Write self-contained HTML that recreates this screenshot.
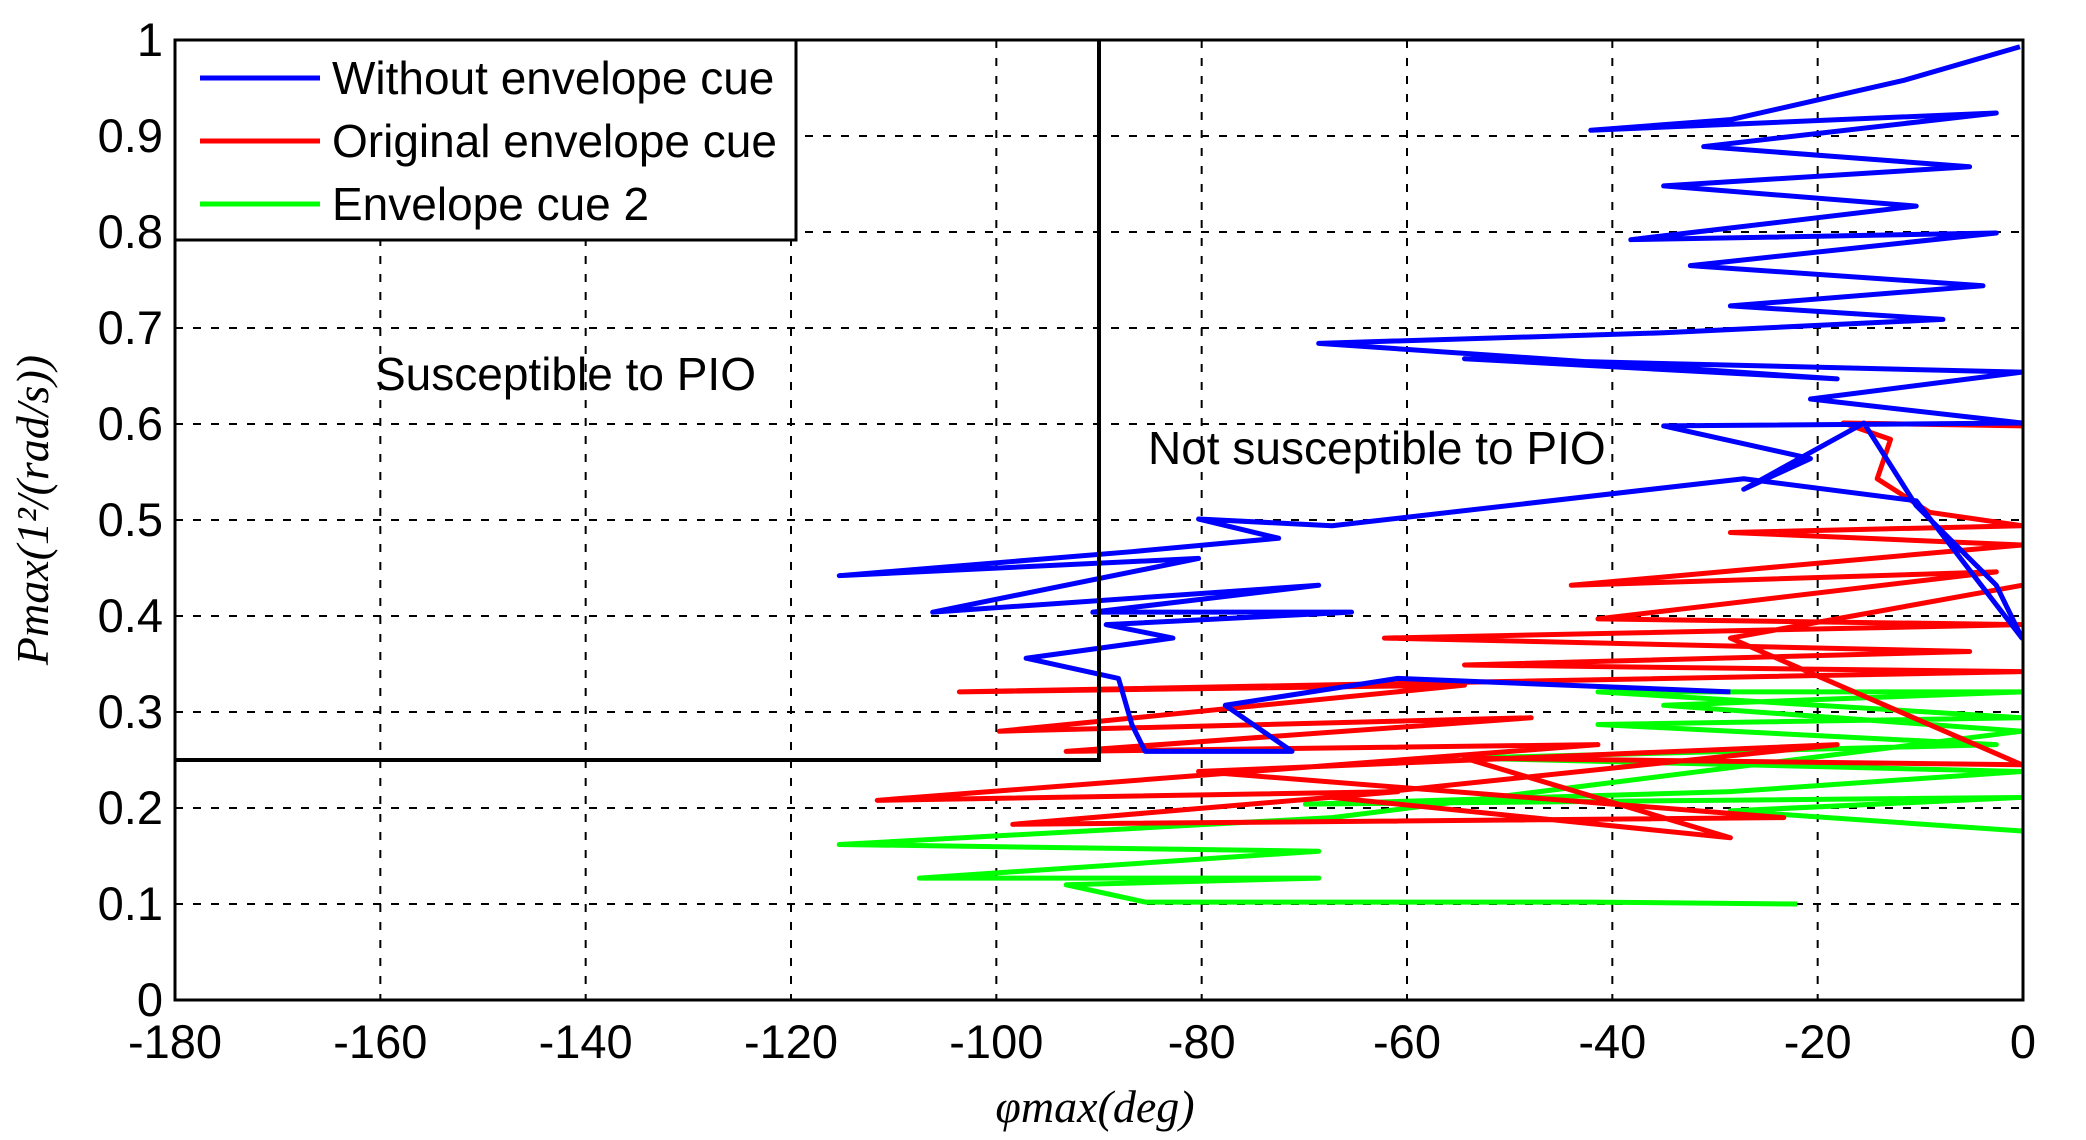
<!DOCTYPE html>
<html><head><meta charset="utf-8"><style>
body{margin:0;background:#fff;}
svg{display:block;font-family:"Liberation Sans",sans-serif;}
</style></head><body>
<svg id="chart" width="2086" height="1140"></svg>
<script>
const xTicks=[-180,-160,-140,-120,-100,-80,-60,-40,-20,0];
const yTicks=[0,0.1,0.2,0.3,0.4,0.5,0.6,0.7,0.8,0.9,1];
const yTickLabels=["0","0.1","0.2","0.3","0.4","0.5","0.6","0.7","0.8","0.9","1"];
const blueX=[-0.3,-11.6,-28.5,-42.1,-2.6,-31.1,-5.2,-35.0,-10.4,-38.2,-2.6,-32.4,-3.9,-28.5,-7.8,-35.0,-68.6,-18.1,-54.4,-0.1,-20.7,-0.1,-35.0,-20.7,-27.2,-15.5,-10.4,-2.6,-0.1,-10.4,-27.2,-67.3,-80.3,-72.5,-86.8,-115.3,-80.3,-106.2,-68.6,-90.6,-65.4,-89.3,-82.8,-97.1,-88.1,-86.8,-85.5,-71.2,-77.7,-60.9,-28.5];
const blueY=[0.993,0.958,0.917,0.906,0.924,0.889,0.868,0.848,0.827,0.792,0.799,0.765,0.744,0.723,0.709,0.695,0.684,0.647,0.668,0.654,0.626,0.601,0.598,0.564,0.532,0.601,0.515,0.432,0.377,0.52,0.543,0.494,0.501,0.481,0.467,0.442,0.460,0.404,0.432,0.404,0.404,0.391,0.377,0.356,0.335,0.287,0.259,0.259,0.307,0.335,0.321];
const redX=[-0.1,-17.5,-12.9,-14.2,-9.1,-0.1,-28.5,-0.1,-44,-2.6,-41.4,-0.1,-62.2,-5.2,-54.4,-0.1,-103.6,-54.4,-99.7,-47.9,-93.2,-41.4,-111.6,-60.9,-98.4,-23.3,-80.3,-18.1,-67.3,-28.5,-54.4,-0.1,-28.5,-0.1];
const redY=[0.598,0.601,0.584,0.543,0.508,0.494,0.487,0.474,0.432,0.446,0.397,0.391,0.377,0.363,0.349,0.342,0.321,0.328,0.280,0.294,0.259,0.266,0.208,0.217,0.183,0.190,0.238,0.266,0.211,0.169,0.252,0.245,0.377,0.432];
const greenX=[-0.1,-28.5,-0.1,-69.9,-28.5,-0.1,-54.4,-2.6,-41.4,-0.1,-41.4,-0.1,-35,-0.1,-67.3,-115.3,-68.6,-107.5,-68.6,-93.2,-85.5,-42.1,-22.0];
const greenY=[0.176,0.197,0.211,0.204,0.217,0.238,0.252,0.266,0.287,0.294,0.321,0.321,0.307,0.280,0.190,0.162,0.155,0.127,0.127,0.120,0.102,0.102,0.100];

const L=175,R=2023,T=40,B=1000;
const sx=v=>L+(v+180)/180*(R-L);
const sy=v=>B-v*(B-T);
const svg=document.getElementById('chart');
const NS='http://www.w3.org/2000/svg';
function mk(tag,attrs,parent){const e=document.createElementNS(NS,tag);for(const k in attrs)e.setAttribute(k,attrs[k]);(parent||svg).appendChild(e);return e;}

xTicks.forEach((t,i)=>{
  if(i>0&&i<xTicks.length-1){
    const g=mk('line',{x1:sx(t),x2:sx(t),y1:T,y2:B,stroke:'#000','stroke-width':2,'stroke-dasharray':'8,10'});
    
    
  }
  const tx=mk('text',{x:sx(t),y:B+58,'font-size':47,'text-anchor':'middle'});
  tx.textContent=t;
  
  
});
yTicks.forEach((t,i)=>{
  if(i>0&&i<yTicks.length-1){
    const g=mk('line',{x1:L,x2:R,y1:sy(t),y2:sy(t),stroke:'#000','stroke-width':2,'stroke-dasharray':'8,10'});
    
    
  }
  const tx=mk('text',{x:L-12,y:sy(t)+16,'font-size':47,'text-anchor':'end'});
  tx.textContent=yTickLabels[i];
  
  
});

function series(xs,ys,color,name){
  const p=mk('polyline',{points:xs.map((x,i)=>sx(x)+','+sy(ys[i])).join(' '),fill:'none',stroke:color,'stroke-width':5,'stroke-linejoin':'round'});
  
  
}
series(greenX,greenY,'#00ff00','series-envelope-cue-2');
series(redX,redY,'#ff0000','series-original-envelope-cue');
series(blueX,blueY,'#0000ff','series-without-envelope-cue');

const bd=mk('polyline',{points:`${sx(-90)},${T} ${sx(-90)},${sy(0.25)} ${L},${sy(0.25)}`,fill:'none',stroke:'#000','stroke-width':4});



const ax=mk('rect',{x:L,y:T,width:R-L,height:B-T,fill:'none',stroke:'#000','stroke-width':3});



const a1=mk('text',{x:375,y:390,'font-size':46});a1.textContent='Susceptible to PIO';


const a2=mk('text',{x:1148,y:464,'font-size':46});a2.textContent='Not susceptible to PIO';



const lg=mk('g',{});


mk('rect',{x:L,y:T,width:621,height:200,fill:'#fff',stroke:'#000','stroke-width':3},lg);
const entries=[['Without envelope cue','#0000ff'],['Original envelope cue','#ff0000'],['Envelope cue 2','#00ff00']];
entries.forEach((e,i)=>{
  const y=T+38+i*63;
  const ent=mk('g',{},lg);
  
  
  mk('line',{x1:200,x2:320,y1:y,y2:y,stroke:e[1],'stroke-width':5},ent);
  const t=mk('text',{x:332,y:y+16,'font-size':46},ent);t.textContent=e[0];
});

const xt=mk('text',{x:1095,y:1122,'font-size':46,'font-style':'italic','font-family':'Liberation Serif, serif','text-anchor':'middle'});
xt.textContent='φmax(deg)';


const yt=mk('text',{x:0,y:0,'font-size':46,'font-style':'italic','font-family':'Liberation Serif, serif','text-anchor':'middle',transform:`translate(48,${(T+B)/2-10}) rotate(-90)`});
yt.textContent='Pmax(1²/(rad/s))';


</script>
</body></html>
